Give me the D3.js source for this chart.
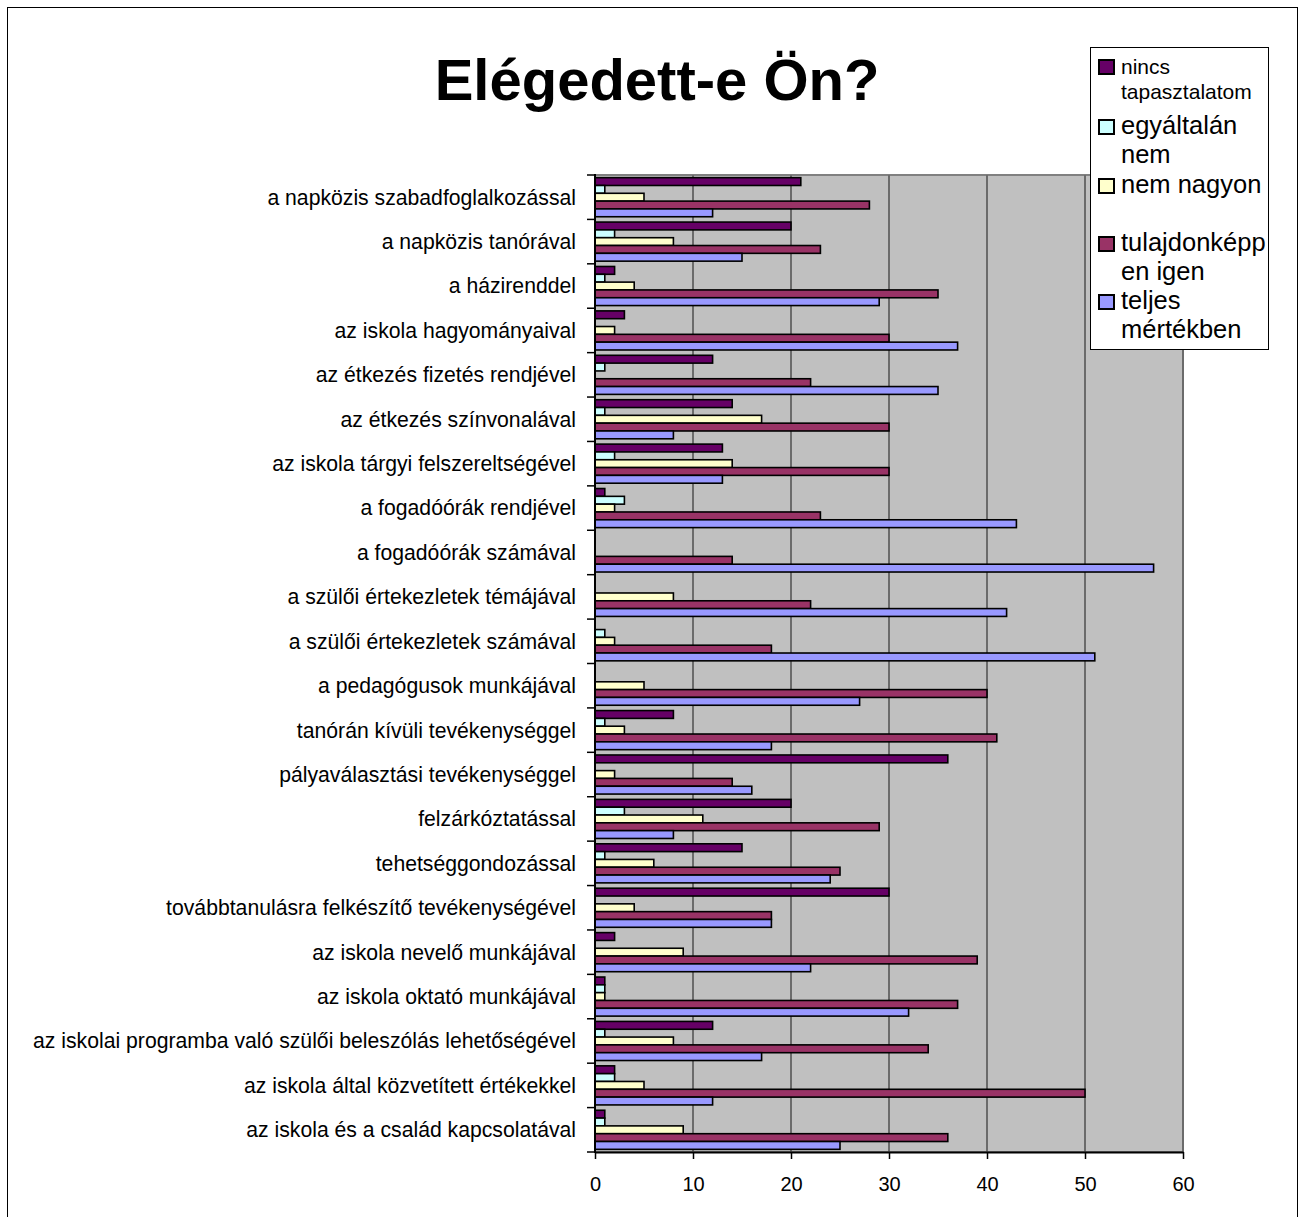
<!DOCTYPE html>
<html>
<head>
<meta charset="utf-8">
<script src="https://cdn.jsdelivr.net/npm/d3@7"></script>
<style>
  body { margin: 0; background: #fff; }
  text { font-family: "Liberation Sans", Arial, sans-serif; }
</style>
</head>
<body>
<div id="chart"></div>
<script>
// categories, top to bottom
var categories = [
  "a napközis szabadfoglalkozással",
  "a napközis tanórával",
  "a házirenddel",
  "az iskola hagyományaival",
  "az étkezés fizetés rendjével",
  "az étkezés színvonalával",
  "az iskola tárgyi felszereltségével",
  "a fogadóórák rendjével",
  "a fogadóórák számával",
  "a szülői értekezletek témájával",
  "a szülői értekezletek számával",
  "a pedagógusok munkájával",
  "tanórán kívüli tevékenységgel",
  "pályaválasztási tevékenységgel",
  "felzárkóztatással",
  "tehetséggondozással",
  "továbbtanulásra felkészítő tevékenységével",
  "az iskola nevelő munkájával",
  "az iskola oktató munkájával",
  "az iskolai programba való szülői beleszólás lehetőségével",
  "az iskola által közvetített értékekkel",
  "az iskola és a család kapcsolatával"
];

var nincsTapasztalatom = [21, 20, 2, 3, 12, 14, 13, 1, 0, 0, 0, 0, 8, 36, 20, 15, 30, 2, 1, 12, 2, 1];
var egyaltalanNem      = [1, 2, 1, 0, 1, 1, 2, 3, 0, 0, 1, 0, 1, 0, 3, 1, 0, 0, 1, 1, 2, 1];
var nemNagyon          = [5, 8, 4, 2, 0, 17, 14, 2, 0, 8, 2, 5, 3, 2, 11, 6, 4, 9, 1, 8, 5, 9];
var tulajdonkeppenIgen = [28, 23, 35, 30, 22, 30, 30, 23, 14, 22, 18, 40, 41, 14, 29, 25, 18, 39, 37, 34, 50, 36];
var teljesMertekben    = [12, 15, 29, 37, 35, 8, 13, 43, 57, 42, 51, 27, 18, 16, 8, 24, 18, 22, 32, 17, 12, 25];

var seriesNames = ["nincs tapasztalatom", "egyáltalán nem", "nem nagyon", "tulajdonképpen igen", "teljes mértékben"];
var seriesValues = [nincsTapasztalatom, egyaltalanNem, nemNagyon, tulajdonkeppenIgen, teljesMertekben];
var seriesColors = ["#660066", "#CCFFFF", "#FFFFCC", "#993366", "#9999FF"];
// legend text as it wraps in the box
var legendLines = [["nincs", "tapasztalatom"], ["egyáltalán", "nem"], ["nem nagyon", ""], ["tulajdonképp", "en igen"], ["teljes", "mértékben"]];
var xTicks = [0, 10, 20, 30, 40, 50, 60];

var width = 1302, height = 1217;
var plot = {left: 595, right: 1183, top: 175, bottom: 1152};

var svg = d3.select("#chart").append("svg")
    .attr("width", width)
    .attr("height", height);

/* Outer frame */
svg.append("rect")
    .attr("x", 7.5).attr("y", 7.5)
    .attr("width", 1290).attr("height", 1240)
    .attr("fill", "#fff")
    .attr("stroke", "#000")
    .attr("stroke-width", 1);

svg.append("text")
    .attr("x", 657)
    .attr("y", 100)
    .attr("text-anchor", "middle")
    .attr("font-size", 58)
    .attr("font-weight", "bold")
    .text("Elégedett-e Ön?");

/* Scales */
var x = d3.scaleLinear().domain([0, 60]).range([plot.left, plot.right]);
var y0 = d3.scaleBand().domain(categories)
    .range([plot.top, plot.bottom])
    .paddingInner(0.12)
    .paddingOuter(0.06);
var y1 = d3.scaleBand().domain(d3.range(seriesNames.length))
    .range([0, y0.bandwidth()]);

/* Plot background and gridlines */
svg.append("rect")
    .attr("x", plot.left).attr("y", plot.top)
    .attr("width", plot.right - plot.left)
    .attr("height", plot.bottom - plot.top)
    .attr("fill", "#C0C0C0")
    .attr("stroke", "#808080")
    .attr("stroke-width", 2);

svg.append("g").selectAll("line")
    .data(xTicks.slice(1))
    .enter().append("line")
    .attr("x1", function(d){ return x(d); })
    .attr("x2", function(d){ return x(d); })
    .attr("y1", plot.top)
    .attr("y2", plot.bottom)
    .attr("stroke", "#6b6b6b")
    .attr("stroke-width", 2);

/* Bars */
var groups = svg.append("g").selectAll("g")
    .data(categories)
    .enter().append("g")
    .attr("transform", function(d){ return "translate(0," + y0(d) + ")"; });

groups.selectAll("rect")
    .data(function(d, i){
        return seriesValues.map(function(vals, s){ return {s: s, v: vals[i]}; });
    })
    .enter().append("rect")
    .filter(function(d){ return d.v > 0; })
    .attr("x", x(0))
    .attr("y", function(d){ return y1(d.s); })
    .attr("width", function(d){ return x(d.v) - x(0); })
    .attr("height", y1.bandwidth())
    .attr("fill", function(d){ return seriesColors[d.s]; })
    .attr("stroke", "#000")
    .attr("stroke-width", 1.6);

/* Axes */
var xAxis = svg.append("g")
    .attr("transform", "translate(0," + plot.bottom + ")")
    .call(d3.axisBottom(x).tickValues(xTicks).tickSize(7).tickSizeOuter(0));
xAxis.select(".domain").attr("stroke-width", 2);
xAxis.selectAll(".tick line").attr("stroke-width", 1.5);
xAxis.selectAll("text")
    .attr("font-size", 20)
    .attr("font-family", "Liberation Sans, Arial, sans-serif")
    .attr("fill", "#000")
    .attr("dy", "1.45em");

// category ticks sit on the band boundaries
var bounds = d3.range(categories.length + 1).map(function(i){ return plot.top + i * y0.step(); });
svg.append("g").selectAll("line")
    .data(bounds)
    .enter().append("line")
    .attr("x1", plot.left - 8)
    .attr("x2", plot.left)
    .attr("y1", function(d){ return d; })
    .attr("y2", function(d){ return d; })
    .attr("stroke", "#000")
    .attr("stroke-width", 1.5);

svg.append("line")
    .attr("x1", plot.left).attr("x2", plot.left)
    .attr("y1", plot.top - 1).attr("y2", plot.bottom + 1)
    .attr("stroke", "#000")
    .attr("stroke-width", 2);

svg.append("g").selectAll("text")
    .data(categories)
    .enter().append("text")
    .attr("x", 576)
    .attr("y", function(d){ return y0(d) + y0.bandwidth() / 2; })
    .attr("dy", "0.35em")
    .attr("text-anchor", "end")
    .attr("font-size", 21.2)
    .text(function(d){ return d; });

/* Legend */
var legend = svg.append("g");
legend.append("rect")
    .attr("x", 1090.5).attr("y", 47.5)
    .attr("width", 178).attr("height", 302)
    .attr("fill", "#fff")
    .attr("stroke", "#000")
    .attr("stroke-width", 1);

var legendBase = [74, 134, 193, 251, 309];
var lineGap = [25, 29, 29, 29, 29];
var legendItems = legend.selectAll(".item")
    .data(seriesNames)
    .enter().append("g")
    .attr("class", "item");
legendItems.append("rect")
    .attr("x", 1099)
    .attr("y", function(d, i){ return legendBase[i] - 14; })
    .attr("width", 15)
    .attr("height", 14)
    .attr("fill", function(d, i){ return seriesColors[i]; })
    .attr("stroke", "#000")
    .attr("stroke-width", 2);
legendItems.append("text")
    .attr("font-size", function(d, i){ return i == 0 ? 21 : 25.5; })
    .selectAll("tspan")
    .data(function(d, i){ return legendLines[i].map(function(t, k){ return {t: t, i: i, k: k}; }); })
    .enter().append("tspan")
    .attr("x", 1121)
    .attr("y", function(d){ return legendBase[d.i] + d.k * lineGap[d.i]; })
    .text(function(d){ return d.t; });
</script>
</body>
</html>
